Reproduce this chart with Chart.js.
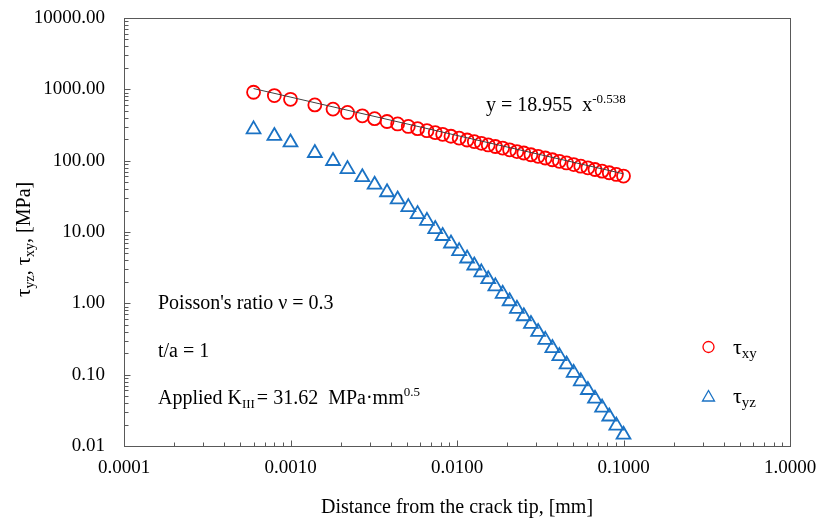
<!DOCTYPE html>
<html>
<head>
<meta charset="utf-8">
<script src="https://cdn.jsdelivr.net/npm/chart.js@4"></script>
<style>
  html, body { margin: 0; padding: 0; background: #ffffff; }
  #wrap { width: 820px; height: 525px; }
</style>
</head>
<body>
<div id="wrap"><canvas id="c" width="820" height="525"></canvas></div>
<script>
// ---- data ----
const distance = [0.0006, 0.0008, 0.001, 0.0014, 0.0018, 0.0022, 0.0027, 0.0032, 0.0038, 0.0044,
  0.0051, 0.0058, 0.0066, 0.0074, 0.0082, 0.0092, 0.0103, 0.0115, 0.0127, 0.0140,
  0.0154, 0.0170, 0.0188, 0.0207, 0.0229, 0.0252, 0.0278, 0.0307, 0.0339, 0.0374,
  0.0412, 0.0455, 0.0502, 0.0554, 0.0611, 0.0674, 0.0744, 0.0821, 0.0906, 0.1000];
const tauXY = [910, 817, 725, 605, 528, 474, 425, 388, 354, 327,
  302, 281, 263, 247, 234, 220, 207, 195, 185, 175,
  166, 158, 150, 142, 134, 128, 121, 115, 109, 103,
  98.0, 92.9, 88.2, 83.6, 79.3, 75.2, 71.3, 67.7, 64.1, 60.8];
const tauYZ = [275, 222, 180, 128, 99, 76, 58.6, 46.0, 36.1, 28.6,
  22.3, 17.8, 14.3, 11.0, 8.79, 6.90, 5.39, 4.25, 3.39, 2.72,
  2.18, 1.73, 1.36, 1.07, 0.838, 0.659, 0.514, 0.397, 0.307, 0.236,
  0.182, 0.139, 0.106, 0.0805, 0.0610, 0.0460, 0.0345, 0.0259, 0.0193, 0.0144];
// power-law trend line y = 18.955 x^-0.538, end points
const trendX = [0.0006, 0.1];
const trendY = [1025, 65.4];

const xMajorTicks = [0.0001, 0.001, 0.01, 0.1, 1];
const xTickLabels = ['0.0001', '0.0010', '0.0100', '0.1000', '1.0000'];
const yMajorTicks = [0.01, 0.1, 1, 10, 100, 1000, 10000];
const yTickLabels = ['0.01', '0.10', '1.00', '10.00', '100.00', '1000.00', '10000.00'];
const minorMultipliers = [2, 3, 4, 5, 6, 7, 8, 9];

const FONT = '"Liberation Serif", "Times New Roman", serif';
const RED = '#ff0000';
const BLUE = '#1a72c4';
const AXIS = '#595959';

function pairs(xs, ys) { return xs.map((x, i) => ({ x: x, y: ys[i] })); }

function drawRich(ctx, x, y, parts) {
  let cx = x;
  for (const p of parts) {
    ctx.font = (p.size) + 'px ' + FONT;
    ctx.fillText(p.t, cx, y + (p.dy || 0));
    cx += ctx.measureText(p.t).width + (p.gap || 0);
  }
}

const decor = {
  id: 'decor',
  beforeDatasetsDraw(chart) {
    const ctx = chart.ctx;
    const a = chart.chartArea;
    const xs = chart.scales.x, ys = chart.scales.y;
    ctx.save();
    ctx.strokeStyle = AXIS;
    ctx.lineWidth = 1;
    ctx.strokeRect(Math.round(a.left) + 0.5, Math.round(a.top) + 0.5,
      Math.round(a.right - a.left), Math.round(a.bottom - a.top));
    ctx.beginPath();
    const bottom = Math.round(a.bottom) + 0.5, left = Math.round(a.left) + 0.5;
    xMajorTicks.forEach((m, i) => {
      const px = Math.round(xs.getPixelForValue(m)) + 0.5;
      ctx.moveTo(px, bottom); ctx.lineTo(px, bottom - 6);
      if (i < xMajorTicks.length - 1) {
        minorMultipliers.forEach(k => {
          const q = Math.round(xs.getPixelForValue(m * k)) + 0.5;
          ctx.moveTo(q, bottom); ctx.lineTo(q, bottom - 4);
        });
      }
    });
    yMajorTicks.forEach((m, i) => {
      const py = Math.round(ys.getPixelForValue(m)) + 0.5;
      ctx.moveTo(left, py); ctx.lineTo(left + 6, py);
      if (i < yMajorTicks.length - 1) {
        minorMultipliers.forEach(k => {
          const q = Math.round(ys.getPixelForValue(m * k)) + 0.5;
          ctx.moveTo(left, q); ctx.lineTo(left + 4, q);
        });
      }
    });
    ctx.stroke();
    ctx.restore();
  },
  afterDraw(chart) {
    const ctx = chart.ctx;
    ctx.save();
    ctx.fillStyle = '#000000';
    ctx.textBaseline = 'alphabetic';
    ctx.textAlign = 'left';
    drawRich(ctx, 486, 111, [
      { t: 'y = 18.955  x', size: 20 },
      { t: '-0.538', size: 13, dy: -8 }
    ]);
    drawRich(ctx, 158, 309, [{ t: "Poisson's ratio \u03BD = 0.3", size: 20 }]);
    drawRich(ctx, 158, 357, [{ t: 't/a = 1', size: 20 }]);
    drawRich(ctx, 158, 404, [
      { t: 'Applied K', size: 20 },
      { t: 'III', size: 13, dy: 4, gap: 2 },
      { t: '= 31.62  MPa\u00B7mm', size: 20 },
      { t: '0.5', size: 13, dy: -8 }
    ]);
    // legend
    ctx.lineWidth = 1.3;
    ctx.strokeStyle = RED;
    ctx.beginPath();
    ctx.arc(708.5, 347, 5.5, 0, Math.PI * 2);
    ctx.stroke();
    ctx.strokeStyle = BLUE;
    ctx.beginPath();
    ctx.moveTo(708.5, 390.5); ctx.lineTo(714.5, 401); ctx.lineTo(702.5, 401); ctx.closePath();
    ctx.stroke();
    drawRich(ctx, 733, 354, [{ t: '\u03C4', size: 22 }, { t: 'xy', size: 15, dy: 4 }]);
    drawRich(ctx, 733, 403, [{ t: '\u03C4', size: 22 }, { t: 'yz', size: 15, dy: 4 }]);
    // y axis title (rotated)
    ctx.translate(30, 297);
    ctx.rotate(-Math.PI / 2);
    drawRich(ctx, 0, 0, [
      { t: '\u03C4', size: 21 }, { t: 'yz', size: 14, dy: 4 }, { t: ', ', size: 20 },
      { t: '\u03C4', size: 21 }, { t: 'xy', size: 14, dy: 4 }, { t: ', [MPa]', size: 20 }
    ]);
    ctx.restore();
  }
};

new Chart(document.getElementById('c'), {
  type: 'scatter',
  data: {
    datasets: [
      {
        label: 'trend',
        data: pairs(trendX, trendY),
        showLine: true,
        borderColor: '#404040',
        borderWidth: 1,
        pointRadius: 0,
        fill: false
      },
      {
        label: '\u03C4xy',
        data: pairs(distance, tauXY),
        pointStyle: 'circle',
        pointRadius: 6.5,
        pointBorderWidth: 1.8,
        borderColor: RED,
        backgroundColor: 'rgba(0,0,0,0)',
        showLine: false
      },
      {
        label: '\u03C4yz',
        data: pairs(distance, tauYZ),
        pointStyle: 'triangle',
        pointRadius: 8,
        pointBorderWidth: 1.8,
        borderColor: BLUE,
        backgroundColor: 'rgba(0,0,0,0)',
        showLine: false
      }
    ]
  },
  options: {
    responsive: false,
    animation: false,
    devicePixelRatio: 1,
    layout: { padding: { left: 0, right: 30, top: 18, bottom: 0 } },
    plugins: { legend: { display: false }, tooltip: { enabled: false } },
    scales: {
      x: {
        type: 'logarithmic',
        min: 0.0001, max: 1,
        grid: { display: false, drawTicks: false },
        border: { display: false },
        afterBuildTicks: s => { s.ticks = xMajorTicks.map(v => ({ value: v })); },
        afterFit: s => { s.height = 79; s.paddingLeft = 0; s.paddingRight = 0; },
        ticks: {
          autoSkip: false, maxRotation: 0, padding: 11,
          color: '#000', font: { family: FONT, size: 19 },
          callback: (v, i) => xTickLabels[i]
        },
        title: {
          display: true, text: 'Distance from the crack tip, [mm]',
          color: '#000', font: { family: FONT, size: 20 },
          padding: { top: 0, bottom: 5 }
        }
      },
      y: {
        type: 'logarithmic',
        min: 0.01, max: 10000,
        grid: { display: false, drawTicks: false },
        border: { display: false },
        afterBuildTicks: s => { s.ticks = yMajorTicks.map(v => ({ value: v })); },
        afterFit: s => { s.width = 124; s.paddingTop = 0; s.paddingBottom = 0; },
        ticks: {
          autoSkip: false, padding: 19,
          color: '#000', font: { family: FONT, size: 19 },
          callback: (v, i) => yTickLabels[i]
        }
      }
    }
  },
  plugins: [decor]
});
</script>
</body>
</html>
